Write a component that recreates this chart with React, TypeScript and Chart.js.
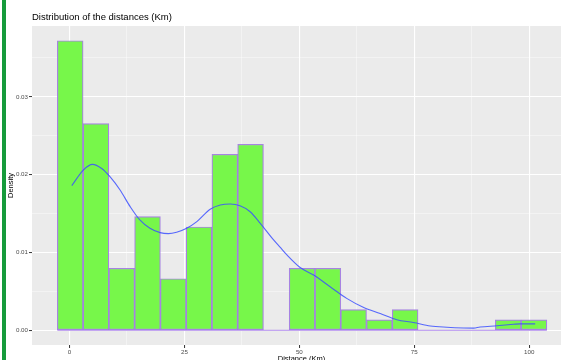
import React, { useEffect, useRef } from "react";
import { Chart, registerables } from "chart.js";

Chart.register(...registerables);

// ---- data ----
const TITLE = "Distribution of the distances (Km)";
const X_TITLE = "Distance (Km)";
const Y_TITLE = "Density";

// histogram bin edges (Km) and density of each bin
const BIN_EDGES = [
  -2.65, 2.96, 8.56, 14.17, 19.77, 25.38, 30.98, 36.59, 42.19, 47.8, 53.4,
  59.01, 64.61, 70.22, 75.82, 81.43, 87.03, 92.64, 98.24, 103.85,
];
const BIN_DENSITY = [
  0.03722, 0.02656, 0.00797, 0.0146, 0.00663, 0.01328, 0.02262, 0.0239, 0,
  0.00797, 0.00797, 0.00266, 0.00133, 0.00266, 0, 0, 0, 0.00133, 0.00133,
];

// kernel density curve
const KDE_X = [
  0.5, 3.0, 5.0, 7.0, 8.8, 11.0, 13.2, 15.3, 17.5, 19.7, 21.5, 23.3, 25.5,
  27.7, 30.6, 32.8, 35.0, 37.1, 39.3, 41.5, 44.4, 45.8, 47.3, 50.1, 53.1,
  56.7, 60.3, 63.9, 67.6, 71.2, 74.8, 78.5, 82.1, 85.7, 87.9, 89.3, 93.0,
  96.6, 98.0, 101.3,
];
const KDE_Y = [
  0.0186, 0.0206, 0.02133, 0.0208, 0.01974, 0.01803, 0.01589, 0.01418,
  0.01311, 0.01255, 0.01242, 0.0126, 0.01311, 0.01396, 0.01555, 0.0161,
  0.01623, 0.016, 0.01524, 0.01375, 0.01161, 0.01068, 0.00968, 0.0081,
  0.0071, 0.0056, 0.0041, 0.00296, 0.00215, 0.00135, 0.001, 0.00055,
  0.00039, 0.0003, 0.00028, 0.00042, 0.00058, 0.00077, 0.00083, 0.00083,
];

const X_TICKS = [0, 25, 50, 75, 100];
const X_MINOR = [-12.5, 12.5, 37.5, 62.5, 87.5, 112.5];
const Y_TICKS = [0, 0.01, 0.02, 0.03];
const Y_MINOR = [0.005, 0.015, 0.025, 0.035];
const Y_TICK_LABELS = ["0.00", "0.01", "0.02", "0.03"];

const X_RANGE = [-8.16, 109.1];
const Y_RANGE = [-0.00189, 0.03911];

const FONT = "'Liberation Sans', Arial, Helvetica, sans-serif";

const panelBg = {
  id: "panelBg",
  beforeDraw(chart: any) {
    const { ctx, chartArea: a } = chart;
    ctx.save();
    ctx.fillStyle = "#EBEBEB";
    ctx.fillRect(a.left, a.top, a.right - a.left, a.bottom - a.top);
    ctx.restore();
  },
};

const isMajor = (list: number[], v: number) =>
  list.some((t) => Math.abs(t - v) < 1e-9);

export default function App() {
  const ref = useRef<HTMLCanvasElement | null>(null);

  useEffect(() => {
    if (!ref.current) return;
    const bars = BIN_DENSITY.map((d, i) => ({
      x: (BIN_EDGES[i] + BIN_EDGES[i + 1]) / 2,
      y: d,
    }));
    const kde = KDE_X.map((x, i) => ({ x, y: KDE_Y[i] }));
    const baseline = [
      { x: BIN_EDGES[0], y: 0 },
      { x: BIN_EDGES[BIN_EDGES.length - 1], y: 0 },
    ];

    const chart = new Chart(ref.current, {
      type: "bar",
      data: {
        datasets: [
          {
            type: "line",
            data: baseline,
            borderColor: "rgba(170,130,235,0.9)",
            borderWidth: 1,
            pointRadius: 0,
            order: 3,
          } as any,
          {
            type: "bar",
            data: bars,
            backgroundColor: "#77F74A",
            borderColor: "rgba(160,120,225,0.9)",
            borderWidth: 1.2,
            borderSkipped: false,
            barPercentage: 1,
            categoryPercentage: 1,
            order: 2,
          } as any,
          {
            type: "line",
            data: kde,
            borderColor: "rgba(60,80,255,0.85)",
            borderWidth: 1.1,
            pointRadius: 0,
            tension: 0.4,
            cubicInterpolationMode: "monotone",
            order: 1,
          } as any,
        ],
      },
      options: {
        animation: false,
        responsive: false,
        devicePixelRatio: 1,
        layout: { padding: { left: 0, right: 19, top: 0, bottom: 0 } },
        plugins: {
          legend: { display: false },
          tooltip: { enabled: false },
          title: {
            display: true,
            text: TITLE,
            align: "start",
            fullSize: false,
            color: "#000000",
            font: { family: FONT, size: 9.5, weight: "normal" },
            padding: { top: 11.8, bottom: 2.8 },
          },
        },
        scales: {
          x: {
            type: "linear",
            min: X_RANGE[0],
            max: X_RANGE[1],
            offset: false,
            afterBuildTicks: (s: any) => {
              s.ticks = [...X_TICKS, ...X_MINOR]
                .filter((v) => v >= X_RANGE[0] && v <= X_RANGE[1])
                .sort((a, b) => a - b)
                .map((v) => ({ value: v }));
            },
            afterFit: (s: any) => {
              s.height = 20;
            },
            ticks: {
              autoSkip: false,
              maxRotation: 0,
              padding: 0.5,
              color: "#4D4D4D",
              font: { family: FONT, size: 6.2 },
              callback: (v: any) =>
                isMajor(X_TICKS, Number(v)) ? String(v) : "",
            },
            grid: {
              offset: false,
              drawTicks: true,
              tickLength: 3,
              color: (c: any) =>
                isMajor(X_TICKS, c.tick?.value) ? "#FFFFFF" : "rgba(255,255,255,0.75)",
              lineWidth: (c: any) =>
                isMajor(X_TICKS, c.tick?.value) ? 1.1 : 0.55,
              tickColor: (c: any) =>
                isMajor(X_TICKS, c.tick?.value) ? "#333333" : "rgba(0,0,0,0)",
              tickWidth: 1,
            },
            border: { display: false },
            title: {
              display: true,
              text: X_TITLE,
              color: "#000000",
              font: { family: FONT, size: 7.5 },
              padding: { top: 0, bottom: 1.5 },
            },
          },
          y: {
            type: "linear",
            min: Y_RANGE[0],
            max: Y_RANGE[1],
            afterBuildTicks: (s: any) => {
              s.ticks = [...Y_TICKS, ...Y_MINOR]
                .sort((a, b) => a - b)
                .map((v) => ({ value: v }));
            },
            afterFit: (s: any) => {
              s.width = 32;
            },
            ticks: {
              autoSkip: false,
              padding: 1,
              color: "#4D4D4D",
              font: { family: FONT, size: 6.2 },
              callback: (v: any) => {
                const i = Y_TICKS.findIndex((t) => Math.abs(t - Number(v)) < 1e-9);
                return i >= 0 ? Y_TICK_LABELS[i] : "";
              },
            },
            grid: {
              drawTicks: true,
              tickLength: 3,
              color: (c: any) =>
                isMajor(Y_TICKS, c.tick?.value) ? "#FFFFFF" : "rgba(255,255,255,0.75)",
              lineWidth: (c: any) =>
                isMajor(Y_TICKS, c.tick?.value) ? 1.1 : 0.55,
              tickColor: (c: any) =>
                isMajor(Y_TICKS, c.tick?.value) ? "#333333" : "rgba(0,0,0,0)",
              tickWidth: 1,
            },
            border: { display: false },
            title: {
              display: true,
              text: Y_TITLE,
              color: "#000000",
              font: { family: FONT, size: 7.5 },
              padding: { top: 6.5, bottom: 0 },
            },
          },
        },
      },
      plugins: [panelBg],
    } as any);

    return () => chart.destroy();
  }, []);

  return (
    <div
      style={{
        position: "fixed",
        left: 0,
        top: 0,
        width: 561,
        height: 360,
        overflow: "hidden",
        background: "#FFFFFF",
      }}
    >
      <canvas
        ref={ref}
        width={590}
        height={365}
        style={{ display: "block", position: "absolute", left: 0, top: 0 }}
      />
      <div
        style={{
          position: "absolute",
          left: 2,
          top: 0,
          width: 4,
          height: 360,
          background: "#169B3B",
        }}
      />
    </div>
  );
}
